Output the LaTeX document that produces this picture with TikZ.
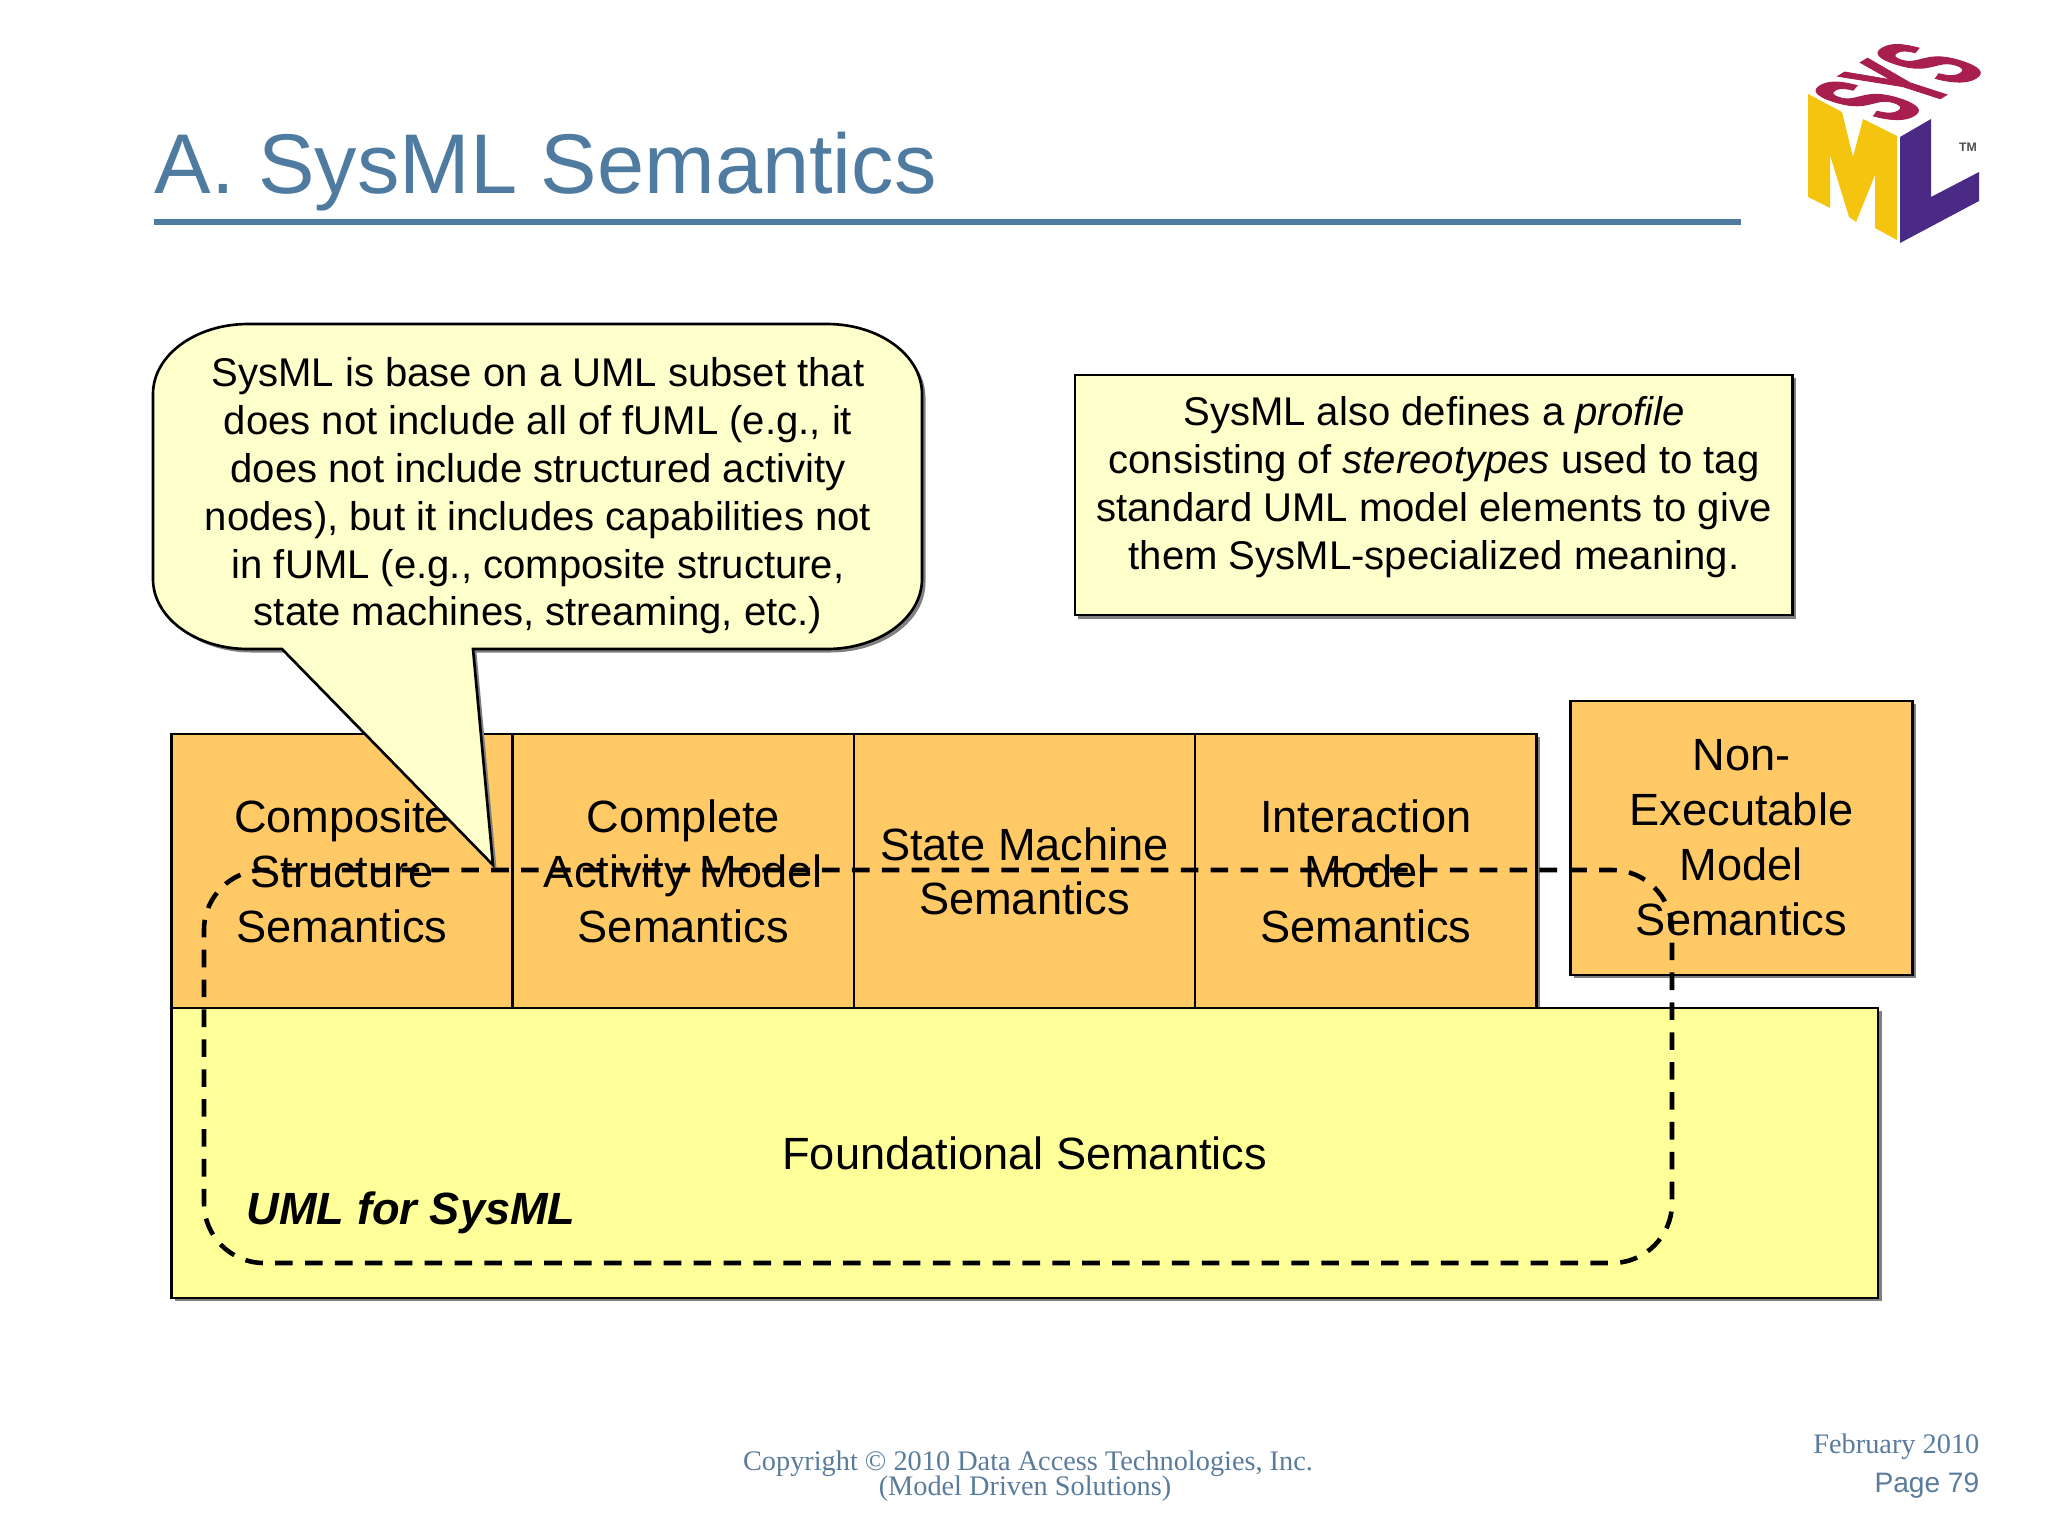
\documentclass[tikz,border=0pt]{standalone}
\usepackage{fontspec}
\setmainfont{Liberation Sans}
\newfontfamily\footserif{Liberation Serif}
\newfontfamily\logofont[BoldFeatures={FakeBold=2}]{Liberation Sans}
\usetikzlibrary{shadows}
\definecolor{slidetitle}{HTML}{4F7BA1}
\definecolor{footblue}{HTML}{5A7C9C}
\definecolor{orangebox}{HTML}{FFC966}
\definecolor{yellowbox}{HTML}{FFFF99}
\definecolor{notebox}{HTML}{FFFFCC}
\definecolor{logoyellow}{HTML}{F5C40F}
\definecolor{logopurple}{HTML}{4B2A85}
\definecolor{logored}{HTML}{A81E4E}
\tikzset{
  boxshade/.style={drop shadow={opacity=1,fill=black!50,shadow xshift=0.035cm,shadow yshift=-0.035cm}},
  semabox/.style={draw,line width=0.75pt,fill=orangebox,anchor=north west,align=center,inner sep=0pt,
    font=\fontsize{12.85}{15.6}\selectfont},
  notetext/.style={align=center,inner sep=0pt,font=\fontsize{11.4}{13.6}\selectfont}
}
\begin{document}
\begin{tikzpicture}[x=0.01cm,y=-0.01cm]
  \useasboundingbox (0,0) rectangle (2048,1536);

  % Title
  \node[slidetitle,anchor=base west,inner sep=0pt,font=\fontsize{24.1}{28}\selectfont] (title) at (154,193) {A. SysML Semantics};
  \draw[slidetitle,line width=1.7pt] (154,222) -- (1741,222);

  % Logo
  \fill[logoyellow] (1808,94) -- (1842,112) -- (1853,157) -- (1863,119) -- (1897,136) -- (1897,240) -- (1875,228) -- (1875,175)
    -- (1856,222) -- (1849,217) -- (1830,155) -- (1830,208) -- (1808,197) -- cycle;
  \fill[logopurple] (1900,137) -- (1931,119) -- (1931,197) -- (1979,172) -- (1979,201) -- (1900,243) -- cycle;
  \node[logored,inner sep=0pt,font=\logofont\fontsize{20}{20}\selectfont\bfseries,cm={.66,.40,-1.85,.60,(0,0)}] (sys) at (1898,82) {SYS};
  \node[black!70,inner sep=0pt,font=\fontsize{3.5}{4}\selectfont\bfseries] (tm) at (1968,147) {TM};

  % Semantics boxes
  \foreach \x/\nm/\txt in {170/comp/{Composite\\Structure\\Semantics},
      511.25/act/{Complete\\Activity Model\\Semantics},
      852.5/sm/{State Machine\\Semantics},
      1193.75/inter/{Interaction\\Model\\Semantics}}
    \node[semabox,boxshade,minimum width=341.25*0.2845pt,minimum height=275*0.2845pt] (\nm) at (\x,732.5) {\txt};
  \node[semabox,boxshade,minimum width=342*0.2845pt,minimum height=274*0.2845pt] (nonexec) at (1569,699.5) {Non-\\Executable\\Model\\Semantics};
  \node[semabox,boxshade,fill=yellowbox,minimum width=1706*0.2845pt,minimum height=290*0.2845pt] (found) at (170,1006.5) {Foundational Semantics};

  % Callout
  \draw[line width=0.75pt,fill=notebox,boxshade] (282,649) -- (493,865) -- (473,649) -- (827,649)
    .. controls (879,649) and (922,618) .. (922,579) -- (922,394)
    .. controls (922,355) and (879,324) .. (827,324) -- (248,324)
    .. controls (196,324) and (153,355) .. (153,394) -- (153,579)
    .. controls (153,618) and (196,649) .. (248,649) -- cycle;
  \node[notetext] (calltxt) at (538,496) {SysML is base on a UML subset that\\does not include all of fUML (e.g., it\\does not include structured activity\\nodes), but it includes capabilities not\\in fUML (e.g., composite structure,\\state machines, streaming, etc.)};

  % Profile note
  \node[draw,line width=0.75pt,fill=notebox,boxshade,minimum width=717*0.2845pt,minimum height=240*0.2845pt] (profile) at (1433.5,495) {};
  \node[notetext] (profiletxt) at (1434,487)
    {SysML also defines a \textit{profile}\\consisting of \textit{stereotypes} used to tag\\standard UML model elements to give\\them SysML-specialized meaning.};

  % UML for SysML boundary
  \draw[line width=1.3pt,dash pattern=on 5pt off 3.5pt,rounded corners=60*0.2845pt] (493,870) -- (1672,870) -- (1672,1263) -- (204,1263) -- (204,870) -- cycle;
  \node[anchor=west,inner sep=0pt,font=\fontsize{12.85}{15}\selectfont\bfseries\itshape] (umlsys) at (246,1213) {UML for SysML};

  % Footer
  \node[footblue,inner sep=0pt,font=\footserif\fontsize{8.05}{7}\selectfont] (copy1) at (1028,1464) {Copyright © 2010 Data Access Technologies, Inc.};
  \node[footblue,inner sep=0pt,font=\footserif\fontsize{8.05}{7}\selectfont] (copy2) at (1025,1489) {(Model Driven Solutions)};
  \node[footblue,anchor=east,inner sep=0pt,font=\footserif\fontsize{8.05}{7}\selectfont] (date) at (1980,1447) {February 2010};
  \node[footblue,anchor=east,inner sep=0pt,font=\fontsize{8}{9}\selectfont] (page) at (1980,1486) {Page 79};
\end{tikzpicture}
\end{document}
